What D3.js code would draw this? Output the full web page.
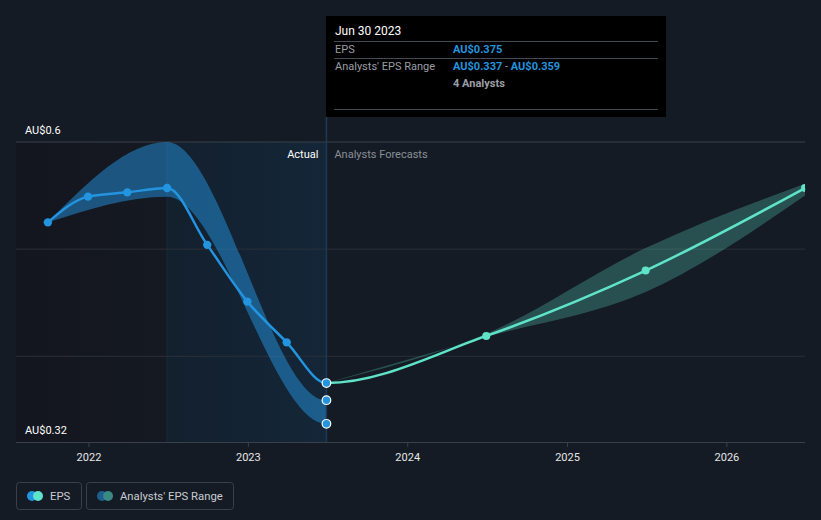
<!DOCTYPE html>
<html><head><meta charset="utf-8">
<script src="https://cdn.jsdelivr.net/npm/d3@7/dist/d3.min.js"></script>
<style>
html,body{margin:0;padding:0;background:#151b24;}
svg{display:block;font-family:Roboto,"Noto Sans",sans-serif;}
</style></head>
<body>
<svg id="c" width="821" height="520"></svg>
<script>
// ---- data ----
const actualDates = ["2021-09-30","2021-12-31","2022-03-31","2022-06-30","2022-09-30","2022-12-31","2023-03-31","2023-06-30"];
const actualEPS   = [0.525,0.549,0.553,0.557,0.504,0.451,0.413,0.375];
const forecastDates = ["2023-06-30","2024-06-30","2025-06-30","2026-06-30"];
const forecastEPS   = [0.375,0.419,0.480,0.557];
const pastRangeDates = ["2021-09-30","2022-06-30","2023-06-30","2024-06-30"];
const pastRangeLow   = [0.525,0.549,0.337,0.418];
const pastRangeHigh  = [0.525,0.600,0.359,0.421];
const fcRangeDates = ["2023-06-30","2024-06-30","2025-06-30","2026-06-30"];
const fcRangeLow   = [0.375,0.418,0.460,0.550];
const fcRangeHigh  = [0.375,0.421,0.501,0.561];
const xTickLabels = ["2022","2023","2024","2025","2026"];
const yTickValues = [0.32,0.4,0.5,0.6];
const yLabelValues = [0.6,0.32];
const tooltipDate = "Jun 30 2023";
const tooltipEPS = "AU$0.375";
const tooltipRange = ["AU$0.337","AU$0.359"];
const tooltipAnalysts = "4 Analysts";

const parse = d3.utcParse("%Y-%m-%d");
const svg = d3.select("#c");
const W = 821, H = 520;
const L = 16, R = 805, T = 142, B = 442;

const x = d3.scaleUtc().domain([parse("2021-07-19"), parse("2026-06-30")]).range([L, R]);
const y = d3.scaleLinear().domain([0.32, 0.6]).range([B, T]);

const blue = "#2394df", teal = "#5fe3c9";
const split = parse("2023-06-30");
const pastStart = parse("2022-06-30");
const xs = x(split);

const defs = svg.append("defs");
// background regions
const g0 = defs.append("linearGradient").attr("id","lg0").attr("x1","0").attr("x2","1");
g0.append("stop").attr("offset","0").attr("stop-color","#13161e");
g0.append("stop").attr("offset","1").attr("stop-color","#151921");
svg.append("rect").attr("x", L).attr("y", T).attr("width", x(pastStart) - L).attr("height", B - T).attr("fill", "url(#lg0)");
const grad = defs.append("linearGradient").attr("id","pg").attr("x1","0").attr("x2","1");
grad.append("stop").attr("offset","0").attr("stop-color","#13202e");
grad.append("stop").attr("offset","1").attr("stop-color","#142638");
svg.append("rect").attr("x", x(pastStart)).attr("y", T).attr("width", xs - x(pastStart)).attr("height", B - T).attr("fill", "url(#pg)");
svg.append("line").attr("x1", x(pastStart)).attr("x2", x(pastStart)).attr("y1", T).attr("y2", B).attr("stroke", "#1a2a3a").attr("stroke-width", 1);

// clip paths
defs.append("clipPath").attr("id","clipPast").append("rect").attr("x",0).attr("y",0).attr("width",xs).attr("height",H);
defs.append("clipPath").attr("id","clipFc").append("rect").attr("x",xs).attr("y",0).attr("width",W).attr("height",H);
defs.append("clipPath").attr("id","clipPlot").append("rect").attr("x",L).attr("y",0).attr("width",R-L).attr("height",H);

// gridlines
svg.append("g").selectAll("line").data(yTickValues.filter(v => v !== 0.32)).join("line")
  .attr("x1", L).attr("x2", R).attr("y1", d => y(d)).attr("y2", d => y(d))
  .attr("stroke", d => d === 0.6 ? "#3a404a" : "#2a3039").attr("stroke-width", 1);

// bottom axis
const xAxis = d3.axisBottom(x)
  .tickValues(xTickLabels.map(t => parse(t + "-01-01")))
  .tickFormat(d3.utcFormat("%Y")).tickSize(5).tickPadding(6);
const gx = svg.append("g").attr("transform", `translate(0,${B})`).call(xAxis);
gx.select(".domain").attr("stroke", "#3a404a").attr("d", `M${L},0.5H${R}`);
gx.selectAll(".tick line").attr("stroke", "#3a404a");
gx.selectAll(".tick text").attr("fill", "#e6e6e6").attr("font-size", 11).attr("font-family", "Roboto");

// past range band
const area = d3.area().x(d => x(d.date)).y0(d => y(d.lo)).y1(d => y(d.hi)).curve(d3.curveMonotoneX);
const pastBand = pastRangeDates.map((d, i) => ({date: parse(d), lo: pastRangeLow[i], hi: pastRangeHigh[i]}));
svg.append("path").datum(pastBand).attr("d", area).attr("fill", blue).attr("fill-opacity", 0.5).attr("clip-path", "url(#clipPast)");

// forecast band
const fcBand = fcRangeDates.map((d, i) => ({date: parse(d), lo: fcRangeLow[i], hi: fcRangeHigh[i]}));
svg.append("path").datum(fcBand).attr("d", area).attr("fill", teal).attr("fill-opacity", 0.27).attr("clip-path", "url(#clipPlot)");

// EPS line (one continuous curve)
const allPts = actualDates.map((d, i) => ({date: parse(d), v: actualEPS[i]}))
  .concat(forecastDates.slice(1).map((d, i) => ({date: parse(d), v: forecastEPS[i + 1]})));
const line = d3.line().x(d => x(d.date)).y(d => y(d.v)).curve(d3.curveMonotoneX);
svg.append("path").datum(allPts).attr("d", line).attr("fill", "none").attr("stroke", blue).attr("stroke-width", 2.5).attr("clip-path", "url(#clipPast)");
svg.append("path").datum(allPts).attr("d", line).attr("fill", "none").attr("stroke", teal).attr("stroke-width", 2.5).attr("clip-path", "url(#clipFc)");

// points
svg.append("g").selectAll("circle").data(allPts.filter(p => p.date < split)).join("circle")
  .attr("cx", d => x(d.date)).attr("cy", d => y(d.v)).attr("r", 4.2).attr("fill", blue);
svg.append("g").attr("clip-path","url(#clipPlot)").selectAll("circle").data(allPts.filter(p => p.date > split)).join("circle")
  .attr("cx", d => x(d.date)).attr("cy", d => y(d.v)).attr("r", 4).attr("fill", teal);

// hover line
svg.append("line").attr("x1", xs).attr("x2", xs).attr("y1", 117).attr("y2", B).attr("stroke", "#1d3b57").attr("stroke-width", 1.5);

// hover markers
svg.append("g").selectAll("circle").data([0.375, pastRangeHigh[2], pastRangeLow[2]]).join("circle")
  .attr("cx", xs).attr("cy", d => y(d)).attr("r", 4.3).attr("fill", blue).attr("stroke", "#ffffff").attr("stroke-width", 1.2);

// Actual / Forecast labels
svg.append("text").attr("x", xs - 8).attr("y", 158).attr("text-anchor", "end").attr("fill", "#ffffff").attr("font-size", 11).text("Actual");
svg.append("text").attr("x", xs + 8).attr("y", 158).attr("fill", "#8a8f98").attr("font-size", 11).text("Analysts Forecasts");

// y labels
svg.append("g").selectAll("text").data(yLabelValues).join("text")
  .attr("x", 25).attr("y", d => y(d) - 8).attr("fill", "#ffffff").attr("font-size", 11)
  .text(d => "AU$" + d);

// tooltip
const tt = svg.append("g");
tt.append("rect").attr("x", 326).attr("y", 16).attr("width", 340).attr("height", 101).attr("fill", "#000000");
tt.append("text").attr("x", 335).attr("y", 35).attr("fill", "#ffffff").attr("font-size", 12).text(tooltipDate);
[41.5, 58.5, 109.5].forEach(yy => tt.append("line").attr("x1", 334).attr("x2", 658).attr("y1", yy).attr("y2", yy).attr("stroke", "#444a52").attr("stroke-width", 1));
tt.append("text").attr("x", 335).attr("y", 53).attr("fill", "#9a9ea5").attr("font-size", 11).text("EPS");
tt.append("text").attr("x", 453).attr("y", 53).attr("fill", blue).attr("font-size", 11).attr("font-weight", "bold").text(tooltipEPS);
tt.append("text").attr("x", 335).attr("y", 70).attr("fill", "#9a9ea5").attr("font-size", 11).text("Analysts' EPS Range");
const rt = tt.append("text").attr("x", 453).attr("y", 70).attr("font-size", 11).attr("font-weight", "bold");
rt.append("tspan").attr("fill", blue).text(tooltipRange[0]);
rt.append("tspan").attr("fill", "#9a9ea5").attr("font-weight", "normal").text(" - ");
rt.append("tspan").attr("fill", blue).text(tooltipRange[1]);
tt.append("text").attr("x", 453).attr("y", 87).attr("fill", "#9a9ea5").attr("font-size", 11).attr("font-weight", "bold").text(tooltipAnalysts);

// legend
const lg = svg.append("g");
const items = [{label: "EPS", x: 16, w: 65, c1: blue, c2: teal}, {label: "Analysts' EPS Range", x: 86, w: 147, c1: "#1f5f8f", c2: "#3a8a82"}];
items.forEach(it => {
  lg.append("rect").attr("x", it.x + 0.5).attr("y", 482.5).attr("width", it.w).attr("height", 27).attr("rx", 3).attr("fill", "none").attr("stroke", "#3a3f48");
  lg.append("circle").attr("cx", it.x + 16).attr("cy", 496).attr("r", 5).attr("fill", it.c1);
  lg.append("circle").attr("cx", it.x + 22).attr("cy", 496).attr("r", 5).attr("fill", it.c2);
  lg.append("text").attr("x", it.x + 34).attr("y", 500).attr("fill", "#c8ccd2").attr("font-size", 11.3).text(it.label);
});
</script>
</body></html>
